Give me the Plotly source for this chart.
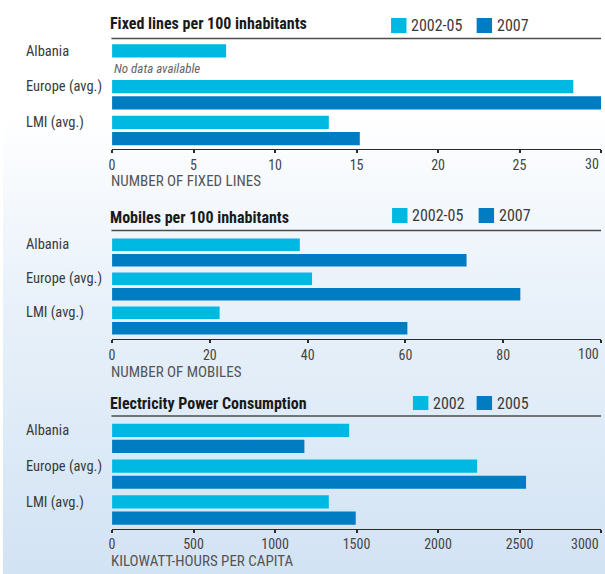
import base64
import plotly.graph_objects as go

# ---------------- data ----------------
categories = ["Albania", "Europe (avg.)", "LMI (avg.)"]

fixed_series = ["2002-05", "2007"]
fixed_2002_05 = [7.0, 28.3, 13.3]
fixed_2007 = [None, 30.0, 15.2]
fixed_ticks = [0, 5, 10, 15, 20, 25, 30]

mobile_series = ["2002-05", "2007"]
mobiles_2002_05 = [38.4, 40.9, 22.0]
mobiles_2007 = [72.5, 83.5, 60.4]
mobile_ticks = [0, 20, 40, 60, 80, 100]

elec_series = ["2002", "2005"]
elec_2002 = [1455, 2240, 1330]
elec_2005 = [1180, 2540, 1495]
elec_ticks = [0, 500, 1000, 1500, 2000, 2500, 3000]

titles = ["Fixed lines per 100 inhabitants", "Mobiles per 100 inhabitants",
          "Electricity Power Consumption"]
axis_titles = ["NUMBER OF FIXED LINES", "NUMBER OF MOBILES", "KILOWATT-HOURS PER CAPITA"]
no_data_note = "No data available"

# ---------------- style ----------------
W, H = 605, 574
LIGHT = "#00B9E3"
DARK = "#007CC2"
FONT = "Roboto Condensed, Roboto, sans-serif"
TXT = "#3a3a3a"


def px_x(p):
    return p / W


def px_y(p):
    return 1 - p / H


x_dom = [px_x(109.6), px_x(601)]
panels = [
    dict(ydom=(40.5, 149), title_y=24, line_y=38.5, axt_y=181,
         leg=(390, 476), leg_y=(18, 33)),
    dict(ydom=(235.5, 339), title_y=217, line_y=230.5, axt_y=372,
         leg=(391, 478), leg_y=(208, 223)),
    dict(ydom=(420.5, 528.5), title_y=403, line_y=416, axt_y=561,
         leg=(412, 476), leg_y=(396, 410)),
]
series_sets = [
    (fixed_series, fixed_2002_05, fixed_2007, fixed_ticks),
    (mobile_series, mobiles_2002_05, mobiles_2007, mobile_ticks),
    (elec_series, elec_2002, elec_2005, elec_ticks),
]

fig = go.Figure()
annotations = []
shapes = []

for i, (p, (names, a, b, ticks)) in enumerate(zip(panels, series_sets)):
    n = "" if i == 0 else str(i + 1)
    xa, ya = "x" + n, "y" + n
    for name, vals, col in ((names[0], a, LIGHT), (names[1], b, DARK)):
        fig.add_trace(go.Bar(
            y=categories, x=vals, orientation="h", name=name,
            marker=dict(color=col, line=dict(width=0)),
            xaxis=xa, yaxis=ya, showlegend=False, hoverinfo="x+name"))
    # last tick label is drawn right-aligned to the axis end (as in the original)
    ticktext = [str(t) for t in ticks[:-1]] + [""]
    fig.layout["xaxis" + n] = dict(
        domain=x_dom, anchor=ya, range=[0, ticks[-1]], tickvals=ticks,
        ticktext=ticktext,
        showgrid=False, zeroline=False, showline=True, linecolor="#2a2a2a",
        linewidth=1, ticks="outside", ticklen=3, tickwidth=2, tickcolor="#2a2a2a",
        tickfont=dict(family=FONT, size=14, color="#444"), fixedrange=True)
    fig.layout["yaxis" + n] = dict(
        domain=[px_y(p["ydom"][1]), px_y(p["ydom"][0])], anchor=xa,
        type="category", categoryorder="array", categoryarray=categories,
        autorange="reversed", showticklabels=False, showgrid=False,
        zeroline=False, showline=False, fixedrange=True)

    annotations.append(dict(
        xref=xa, yref="paper", x=ticks[-1], y=px_y(p["ydom"][1] + 5),
        xanchor="right", yanchor="top", showarrow=False, text=str(ticks[-1]),
        font=dict(family=FONT, size=14, color="#444")))

    # category labels aligned with first bar of each group
    for c in categories:
        annotations.append(dict(
            xref="paper", yref=ya, x=px_x(21), y=c, yshift=8,
            xanchor="left", yanchor="middle", showarrow=False,
            text=c, font=dict(family=FONT, size=14.5, color=TXT)))

    # title
    annotations.append(dict(
        xref="paper", yref="paper", x=px_x(106), y=px_y(p["title_y"]),
        xanchor="left", yanchor="middle", showarrow=False,
        text="<b>" + titles[i] + "</b>",
        font=dict(family=FONT, size=16, color="#1a1a1a")))
    # header rule
    shapes.append(dict(type="line", xref="paper", yref="paper", layer="above",
                       x0=px_x(109), x1=px_x(601),
                       y0=px_y(p["line_y"]), y1=px_y(p["line_y"]),
                       line=dict(color="#4d4d4d", width=1.6)))
    # axis title
    annotations.append(dict(
        xref="paper", yref="paper", x=px_x(107), y=px_y(p["axt_y"]),
        xanchor="left", yanchor="middle", showarrow=False,
        text=axis_titles[i], font=dict(family=FONT, size=15, color="#555")))
    # legend
    for k, (lx, col) in enumerate(zip(p["leg"], (LIGHT, DARK))):
        shapes.append(dict(type="rect", xref="paper", yref="paper",
                           x0=px_x(lx), x1=px_x(lx + 15.5),
                           y0=px_y(p["leg_y"][1]), y1=px_y(p["leg_y"][0]),
                           fillcolor=col, line=dict(width=0)))
        annotations.append(dict(
            xref="paper", yref="paper", x=px_x(lx + 18),
            y=px_y((p["leg_y"][0] + p["leg_y"][1]) / 2),
            xanchor="left", yanchor="middle", showarrow=False,
            text=names[k], font=dict(family=FONT, size=16, color=TXT)))

# "No data available" note for the missing Albania 2007 value
annotations.append(dict(
    xref="x", yref="y", x=0, y=categories[0], yshift=-9,
    xanchor="left", yanchor="middle", showarrow=False,
    text="<i>" + no_data_note + "</i>", font=dict(family=FONT, size=13, color="#666")))

# background gradient (white to light blue)
svg = (f'<svg xmlns="http://www.w3.org/2000/svg" width="{W}" height="{H}" preserveAspectRatio="none">'
       '<defs><linearGradient id="g" x1="0" y1="0" x2="0" y2="1">'
       '<stop offset="0" stop-color="#ffffff"/>'
       '<stop offset="0.2" stop-color="#ffffff"/>'
       '<stop offset="0.5" stop-color="#eaf2fa"/>'
       '<stop offset="1" stop-color="#d2e3f4"/>'
       '</linearGradient></defs>'
       f'<rect width="{W}" height="{H}" fill="url(#g)"/></svg>')
src = "data:image/svg+xml;base64," + base64.b64encode(svg.encode()).decode()

fig.update_layout(
    width=W, height=H, margin=dict(l=0, r=0, t=0, b=0),
    paper_bgcolor="white", plot_bgcolor="rgba(0,0,0,0)",
    barmode="group", bargap=0.1, bargroupgap=0.18,
    annotations=annotations, shapes=shapes,
    images=[dict(source=src, xref="paper", yref="paper", x=0, y=1,
                 sizex=1, sizey=1, xanchor="left", yanchor="top",
                 sizing="stretch", layer="below")],
    showlegend=False,
    font=dict(family=FONT),
)

fig.write_html("out.html", config={"displayModeBar": False},
               post_script="document.body.style.margin='0';")
